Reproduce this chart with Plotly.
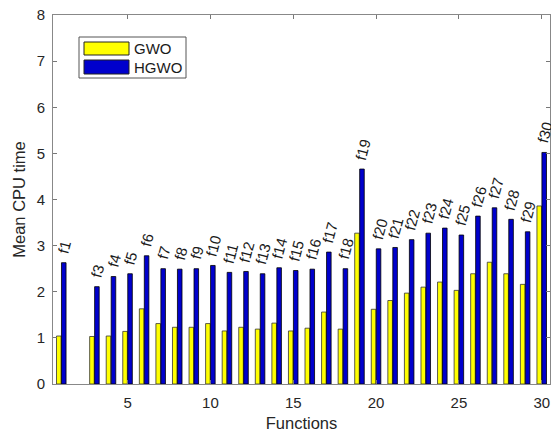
import plotly.graph_objects as go

functions = [1] + list(range(3, 31))
labels = ["f%d" % i for i in functions]
gwo = [1.04, 1.03, 1.04, 1.14, 1.63, 1.31, 1.23, 1.23, 1.31, 1.15, 1.23, 1.19, 1.32, 1.15,
       1.21, 1.56, 1.19, 3.27, 1.62, 1.81, 1.97, 2.10, 2.21, 2.03, 2.39, 2.64, 2.39, 2.16, 3.86]
hgwo = [2.63, 2.11, 2.33, 2.39, 2.78, 2.50, 2.49, 2.50, 2.57, 2.42, 2.44, 2.39, 2.52, 2.46,
        2.49, 2.86, 2.50, 4.66, 2.93, 2.96, 3.13, 3.27, 3.38, 3.23, 3.64, 3.82, 3.57, 3.30, 5.02]
series_names = ["GWO", "HGWO"]
series_colors = ["#FFFF00", "#0000CC"]

font = "Liberation Sans, Arial, sans-serif"
L, R, T, B = 53, 550, 15, 384
W, H = 551, 432


def px(X):
    return (X - L) / (R - L)


def py(Y):
    return (B - Y) / (B - T)


fig = go.Figure()
fig.add_trace(go.Bar(x=functions, y=gwo, name=series_names[0],
                     marker=dict(color=series_colors[0], line=dict(color="#333333", width=0.8))))
fig.add_trace(go.Bar(x=functions, y=hgwo, name=series_names[1],
                     marker=dict(color=series_colors[1], line=dict(color="#000000", width=0.8))))

for xv, yv, lab in zip(functions, hgwo, labels):
    fig.add_annotation(x=xv + 0.2, y=yv, text=lab, showarrow=False, textangle=-75,
                       xanchor="center", yanchor="bottom", yshift=5,
                       font=dict(family=font, size=15, color="#1a1a1a"))

# custom MATLAB-style legend
fig.add_shape(type="rect", xref="paper", yref="paper",
              x0=px(79), x1=px(186), y0=py(78), y1=py(37),
              line=dict(color="#555555", width=1), fillcolor="white")
sw_y = [(42, 55), (60, 74)]
for (ya, yb), nm, col in zip(sw_y, series_names, series_colors):
    fig.add_shape(type="rect", xref="paper", yref="paper",
                  x0=px(84), x1=px(129), y0=py(yb), y1=py(ya),
                  line=dict(color="#222222", width=1), fillcolor=col)
    fig.add_annotation(xref="paper", yref="paper", x=px(132), y=py((ya + yb) / 2),
                       text=nm, showarrow=False, xanchor="left", yanchor="middle",
                       font=dict(family=font, size=15, color="#1a1a1a"))

fig.update_layout(
    width=W, height=H,
    margin=dict(l=L, r=W - R, t=T, b=H - B, autoexpand=False),
    paper_bgcolor="white", plot_bgcolor="white",
    barmode="group", bargap=0.4, bargroupgap=0.08,
    font=dict(family=font, size=15, color="#262626"),
    showlegend=False,
    xaxis=dict(range=[0.5, 30.5], tickvals=[5, 10, 15, 20, 25, 30], automargin=False,
               ticks="inside", ticklen=4, tickcolor="#777777", ticklabelstandoff=5,
               showline=True, linecolor="#888888", linewidth=1, mirror="ticks",
               showgrid=False, zeroline=False,
               title=dict(text="Functions", standoff=10, font=dict(size=16.5))),
    yaxis=dict(range=[0, 8], tickvals=list(range(0, 9)), automargin=False,
               ticks="inside", ticklen=4, tickcolor="#777777", ticklabelstandoff=4,
               showline=True, linecolor="#888888", linewidth=1, mirror="ticks",
               showgrid=False, zeroline=False,
               title=dict(text="Mean CPU time", standoff=6, font=dict(size=16.5))),
)

fig.write_html("out.html")
